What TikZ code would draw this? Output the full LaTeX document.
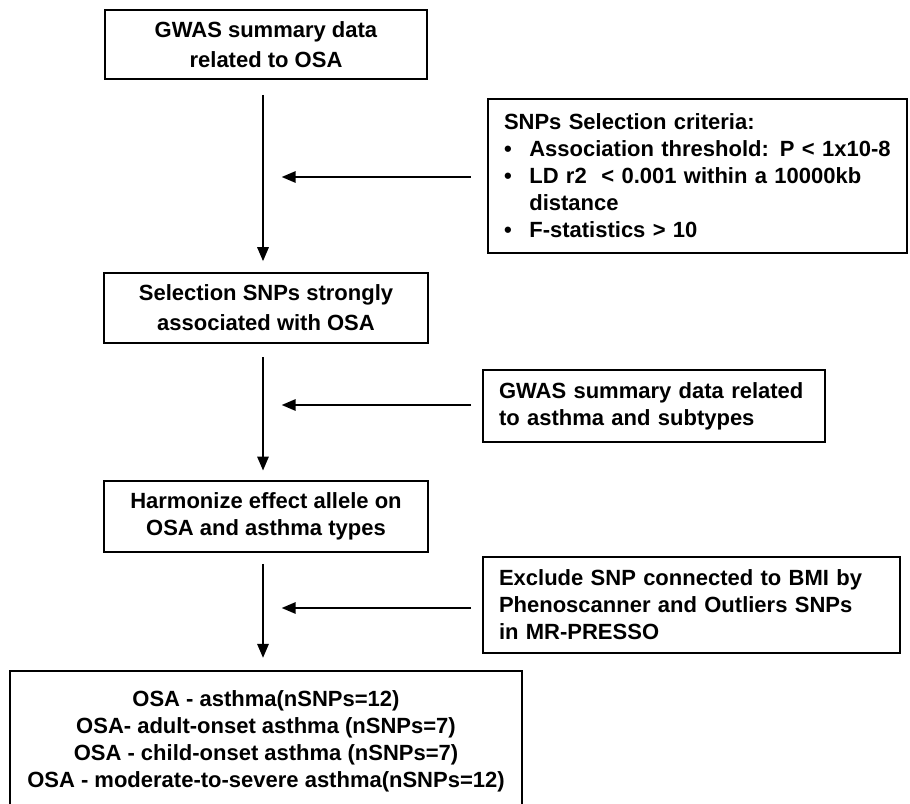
\documentclass[tikz,border=0pt]{standalone}
\usepackage{fontspec}
\setmainfont{Liberation Sans}
\usepackage{xcolor}
\usepackage{tikz}
\usetikzlibrary{calc,arrows.meta}
\definecolor{ink}{HTML}{000000}
\tikzset{
  box/.style={draw=ink, line width=1.7pt, rectangle, inner sep=0pt, align=center,
              font=\fontsize{16.5}{20.25}\selectfont\bfseries, text=ink},
  tallbox/.style={box, font=\fontsize{16.5}{22.5}\selectfont\bfseries},
  sidebox/.style={box, align=left, inner xsep=12pt},
  flow/.style={-{Triangle[length=10.5pt,width=8.5pt]}, draw=ink, line width=1.5pt},
}
\newcommand{\bul}{\makebox[19pt][l]{\textbullet}}

\begin{document}
\begin{tikzpicture}[x=0.75pt, y=-0.75pt]
  \useasboundingbox (0,0) rectangle (910,803);
  \clip (0,0) rectangle (910,803);

  % main column
  \node[tallbox, minimum width=241.5pt, minimum height=51.75pt] (gwas) at (266,44.5)
    {GWAS summary data\\related to OSA};
  \node[tallbox, minimum width=243pt, minimum height=52.5pt] (select) at (266,308)
    {Selection SNPs strongly\\associated with OSA};
  \node[box, minimum width=243pt, minimum height=53.25pt] (harm) at (266,516.5)
    {Harmonize effect allele on\\OSA and asthma types};
  \node[box, minimum width=384pt, minimum height=105.75pt] (res) at (266,741.5)
    {OSA - asthma(nSNPs=12)\\
     OSA- adult-onset asthma (nSNPs=7)\\
     OSA - child-onset asthma (nSNPs=7)\\
     OSA - moderate-to-severe asthma(nSNPs=12)};

  % side boxes
  \node[sidebox, text width=290.25pt, minimum height=115.5pt] (crit) at (697.5,176)
    {SNPs Selection criteria:\\
     \bul Association threshold: P < 1x10-8\\
     \bul LD r2 \ < 0.001 within a 10000kb\\
     \hspace*{19pt}distance\\
     \bul F-statistics > 10};
  \node[sidebox, text width=232.5pt, minimum height=54pt] (asth) at (654,406)
    {GWAS summary data related\\to asthma and subtypes};
  \node[sidebox, text width=288.75pt, minimum height=72pt] (excl) at (691.5,605)
    {Exclude SNP connected to BMI by\\Phenoscanner and Outliers SNPs\\in MR-PRESSO};

  % where the side arrows meet the column
  \coordinate (m1) at (263,177);
  \coordinate (m2) at (263,405);
  \coordinate (m3) at (263,608);

  \draw[flow, shorten <=11pt, shorten >=8pt] (gwas.south -| m1) -- (select.north -| m1);
  \draw[flow, shorten <=10pt, shorten >=7pt] (select.south -| m1) -- (harm.north -| m1);
  \draw[flow, shorten <=8pt, shorten >=9pt] (harm.south -| m1) -- (res.north -| m1);

  \draw[flow, shorten <=12pt, shorten >=14pt] (crit.west |- m1) -- (m1);
  \draw[flow, shorten <=8pt, shorten >=14pt] (asth.west |- m2) -- (m2);
  \draw[flow, shorten <=8pt, shorten >=14pt] (excl.west |- m3) -- (m3);
\end{tikzpicture}
\end{document}
